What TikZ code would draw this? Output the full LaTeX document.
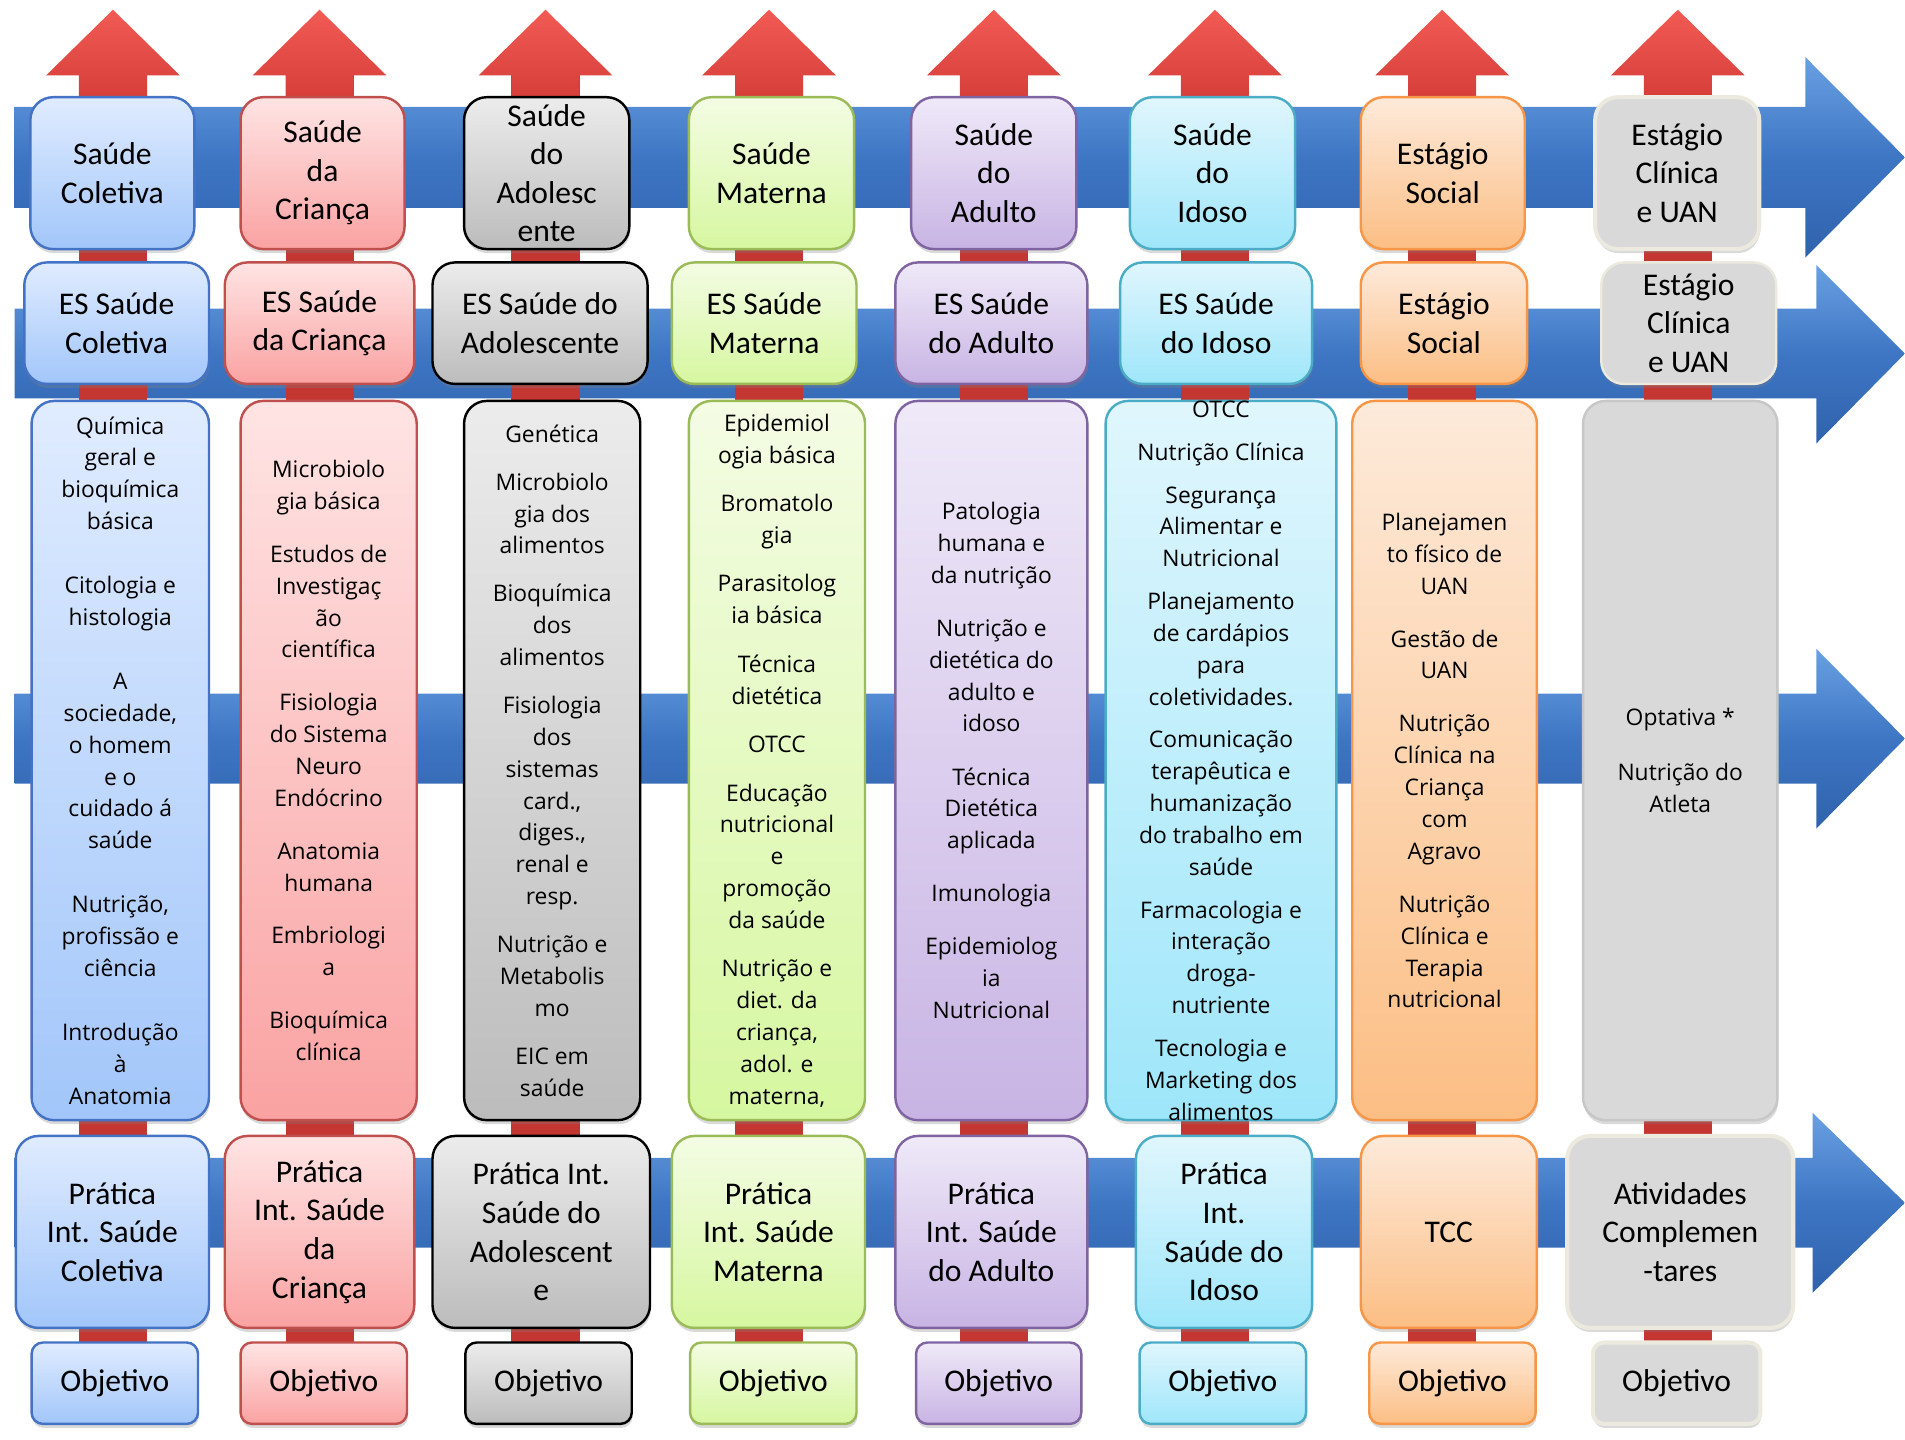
\documentclass[tikz,border=0pt]{standalone}
\usepackage{fontspec}
\usepackage{tikz}
\usetikzlibrary{fit,shadows}
\newfontfamily\ttlfont{Carlito}
\newfontfamily\bodyfont{Open Sans}

\definecolor{bandHi}{RGB}{105,160,226}
\definecolor{bandMid}{RGB}{62,118,196}
\definecolor{bandLo}{RGB}{48,98,172}
\definecolor{redHi}{RGB}{242,90,84}
\definecolor{redHead}{RGB}{214,62,58}
\definecolor{redMid}{RGB}{196,54,50}
\definecolor{bTop}{RGB}{224,236,255}
\definecolor{bBot}{RGB}{162,198,250}
\definecolor{bBd}{RGB}{68,114,196}
\definecolor{rTop}{RGB}{255,228,228}
\definecolor{rBot}{RGB}{250,162,162}
\definecolor{rBd}{RGB}{192,80,77}
\definecolor{gTop}{RGB}{236,236,236}
\definecolor{gBot}{RGB}{188,188,188}
\definecolor{lTop}{RGB}{244,252,228}
\definecolor{lBot}{RGB}{214,247,160}
\definecolor{lBd}{RGB}{155,187,89}
\definecolor{pTop}{RGB}{239,233,248}
\definecolor{pBot}{RGB}{200,180,228}
\definecolor{pBd}{RGB}{128,100,162}
\definecolor{cTop}{RGB}{224,246,253}
\definecolor{cBot}{RGB}{158,230,250}
\definecolor{cBd}{RGB}{75,172,198}
\definecolor{oTop}{RGB}{253,234,218}
\definecolor{oBot}{RGB}{252,190,132}
\definecolor{oBd}{RGB}{247,150,70}
\definecolor{uFill}{RGB}{217,217,217}
\definecolor{uBd}{RGB}{236,234,222}

\tikzset{every picture/.style={line width=0.75pt},
  cbox/.style={rounded corners=14pt, inner sep=0pt, line width=1.5pt,
    drop shadow={shadow xshift=0.5pt, shadow yshift=-2.5pt, opacity=0.3}},
  colbox/.style={cbox, draw=bBd, top color=bTop, bottom color=bBot},
  cribox/.style={cbox, draw=rBd, top color=rTop, bottom color=rBot},
  adobox/.style={cbox, draw=black, top color=gTop, bottom color=gBot},
  matbox/.style={cbox, draw=lBd, top color=lTop, bottom color=lBot},
  adubox/.style={cbox, draw=pBd, top color=pTop, bottom color=pBot},
  idobox/.style={cbox, draw=cBd, top color=cTop, bottom color=cBot},
  socbox/.style={cbox, draw=oBd, top color=oTop, bottom color=oBot},
  uanbox/.style={cbox, draw=uBd, fill=uFill, line width=2.5pt},
  objsmall/.style={rounded corners=7pt},
  band/.style={top color=bandHi, bottom color=bandLo, middle color=bandMid},
  uphead/.style={top color=redHi, bottom color=redHead},
  ttl/.style={align=center, inner sep=0pt, font=\ttlfont\fontsize{19.5}{23.8}\selectfont},
  body/.style={align=center, inner sep=0pt, font=\bodyfont\fontsize{14.1}{19.65}\selectfont}
}

\begin{document}
\begin{tikzpicture}[x=0.75pt,y=0.75pt,yscale=-1,xscale=1]
\useasboundingbox (0,0) rectangle (1568,1185);

%Shape: Right Arrow [id:band1]
\shade [band] (12,88) -- (1486,88) -- (1486,47) -- (1568,129.5) -- (1486,212) -- (1486,171) -- (12,171) -- cycle ;
%Shape: Right Arrow [id:band2]
\shade [band] (12,254) -- (1495,254) -- (1495,218) -- (1568,291) -- (1495,365) -- (1495,328) -- (12,328) -- cycle ;
%Shape: Right Arrow [id:band3]
\shade [band] (12,571) -- (1495,571) -- (1495,534) -- (1568,608) -- (1495,682) -- (1495,645) -- (12,645) -- cycle ;
%Shape: Right Arrow [id:band4]
\shade [band] (12,953) -- (1492,953) -- (1492,916) -- (1568,990) -- (1492,1064) -- (1492,1027) -- (12,1027) -- cycle ;

%Shape: Up Arrow [id:up1]
\fill [redMid] (65,62) rectangle (121,1140) ;
\shade [uphead] (93,8) -- (148,62) -- (121,62) -- (121,80) -- (65,80) -- (65,62) -- (38,62) -- cycle ;
%Shape: Up Arrow [id:up2]
\fill [redMid] (235,62) rectangle (291,1140) ;
\shade [uphead] (263,8) -- (318,62) -- (291,62) -- (291,80) -- (235,80) -- (235,62) -- (208,62) -- cycle ;
%Shape: Up Arrow [id:up3]
\fill [redMid] (421,62) rectangle (477,1140) ;
\shade [uphead] (449,8) -- (504,62) -- (477,62) -- (477,80) -- (421,80) -- (421,62) -- (394,62) -- cycle ;
%Shape: Up Arrow [id:up4]
\fill [redMid] (605,62) rectangle (661,1140) ;
\shade [uphead] (633,8) -- (688,62) -- (661,62) -- (661,80) -- (605,80) -- (605,62) -- (578,62) -- cycle ;
%Shape: Up Arrow [id:up5]
\fill [redMid] (790,62) rectangle (846,1140) ;
\shade [uphead] (818,8) -- (873,62) -- (846,62) -- (846,80) -- (790,80) -- (790,62) -- (763,62) -- cycle ;
%Shape: Up Arrow [id:up6]
\fill [redMid] (972,62) rectangle (1028,1140) ;
\shade [uphead] (1000,8) -- (1055,62) -- (1028,62) -- (1028,80) -- (972,80) -- (972,62) -- (945,62) -- cycle ;
%Shape: Up Arrow [id:up7]
\fill [redMid] (1159,62) rectangle (1215,1140) ;
\shade [uphead] (1187,8) -- (1242,62) -- (1215,62) -- (1215,80) -- (1159,80) -- (1159,62) -- (1132,62) -- cycle ;
%Shape: Up Arrow [id:up8]
\fill [redMid] (1353,62) rectangle (1409,1140) ;
\shade [uphead] (1381,8) -- (1436,62) -- (1409,62) -- (1409,80) -- (1353,80) -- (1353,62) -- (1326,62) -- cycle ;

%Shape: Rounded Rect -- row 1
\node [colbox, fit={(25,80) (160,205)}] (sauCol) {};
\node [cribox, fit={(198,80) (333,205)}] (sauCri) {};
\node [adobox, fit={(382,80) (518,205)}] (sauAdo) {};
\node [matbox, fit={(567,80) (703,205)}] (sauMat) {};
\node [adubox, fit={(750,80) (886,205)}] (sauAdu) {};
\node [idobox, fit={(930,80) (1066,205)}] (sauIdo) {};
\node [socbox, fit={(1120,80) (1255,205)}] (sauSoc) {};
\node [uanbox, fit={(1313,80) (1448,205)}] (sauUan) {};
% Text Node
\node [ttl] (sauColT) at (sauCol) {Saúde\\Coletiva};
\node [ttl] (sauCriT) at (sauCri) {Saúde\\da\\Criança};
\node [ttl] (sauAdoT) at (sauAdo) {Saúde\\do\\Adolesc\\ente};
\node [ttl] (sauMatT) at (sauMat) {Saúde\\Materna};
\node [ttl] (sauAduT) at (sauAdu) {Saúde\\do\\Adulto};
\node [ttl] (sauIdoT) at (sauIdo) {Saúde\\do\\Idoso};
\node [ttl] (sauSocT) at (sauSoc) {Estágio\\Social};
\node [ttl] (sauUanT) at (sauUan) {Estágio\\Clínica\\e UAN};

%Shape: Rounded Rect -- row 2
\node [colbox, fit={(20,216) (172,316)}] (esCol) {};
\node [cribox, fit={(185,216) (341,316)}] (esCri) {};
\node [adobox, fit={(356,216) (533,316)}] (esAdo) {};
\node [matbox, fit={(553,216) (705,316)}] (esMat) {};
\node [adubox, fit={(737,216) (895,316)}] (esAdu) {};
\node [idobox, fit={(922,216) (1080,316)}] (esIdo) {};
\node [socbox, fit={(1120,216) (1257,316)}] (esSoc) {};
\node [uanbox, line width=1.5pt, fit={(1318,216) (1462,316)}] (esUan) {};
% Text Node
\node [ttl] (esColT) at (esCol) {ES Saúde\\Coletiva};
\node [ttl] (esCriT) at (esCri) {ES Saúde\\da Criança};
\node [ttl] (esAdoT) at (esAdo) {ES Saúde do\\Adolescente};
\node [ttl] (esMatT) at (esMat) {ES Saúde\\Materna};
\node [ttl] (esAduT) at (esAdu) {ES Saúde\\do Adulto};
\node [ttl] (esIdoT) at (esIdo) {ES Saúde\\do Idoso};
\node [ttl] (esSocT) at (esSoc) {Estágio\\Social};
\node [ttl] (esUanT) at (esUan) {Estágio\\Clínica\\e UAN};

%Shape: Rounded Rect -- row 3
\node [colbox, fit={(26,330) (172,922)}] (discCol) {};
\node [cribox, fit={(198,330) (343,922)}] (discCri) {};
\node [adobox, fit={(382,330) (527,922)}] (discAdo) {};
\node [matbox, fit={(567,330) (712,922)}] (discMat) {};
\node [adubox, fit={(737,330) (895,922)}] (discAdu) {};
\node [idobox, fit={(910,330) (1100,922)}] (discIdo) {};
\node [socbox, fit={(1113,330) (1265,922)}] (discSoc) {};
\node [uanbox, line width=1.5pt, draw=black!22, fit={(1303,330) (1463,922)}] (discUan) {};
% Text Node
\node [body] (discColT) at (discCol) {Química\\geral e\\bioquímica\\básica\\[19.9pt]Citologia e\\histologia\\[19.9pt]A\\sociedade,\\o homem\\e o\\cuidado á\\saúde\\[19.9pt]Nutrição,\\profissão e\\ciência\\[19.9pt]Introdução\\à\\Anatomia};
\node [body] (discCriT) at (discCri) {Microbiolo\\gia básica\\[13pt]Estudos de\\Investigaç\\ão\\científica\\[13pt]Fisiologia\\do Sistema\\Neuro\\Endócrino\\[13pt]Anatomia\\humana\\[13pt]Embriologi\\a\\[13pt]Bioquímica\\clínica};
\node [body] (discAdoT) at (discAdo) {Genética\\[10pt]Microbiolo\\gia dos\\alimentos\\[10pt]Bioquímica\\dos\\alimentos\\[10pt]Fisiologia\\dos\\sistemas\\card.,\\diges.,\\renal e\\resp.\\[10pt]Nutrição e\\Metabolis\\mo\\[10pt]EIC em\\saúde};
\node [body] (discMatT) at (discMat) {Epidemiol\\ogia básica\\[10.3pt]Bromatolo\\gia\\[10.3pt]Parasitolog\\ia básica\\[10.3pt]Técnica\\dietética\\[10.3pt]OTCC\\[10.3pt]Educação\\nutricional\\e\\promoção\\da saúde\\[10.3pt]Nutrição e\\diet. da\\criança,\\adol. e\\materna,};
\node [body] (discAduT) at (discAdu) {Patologia\\humana e\\da nutrição\\[13.1pt]Nutrição e\\dietética do\\adulto e\\idoso\\[13.1pt]Técnica\\Dietética\\aplicada\\[13.1pt]Imunologia\\[13.1pt]Epidemiolog\\ia\\Nutricional};
\node [body] (discIdoT) at (discIdo) {OTCC\\[6.8pt]Nutrição Clínica\\[6.8pt]Segurança\\Alimentar e\\Nutricional\\[6.8pt]Planejamento\\de cardápios\\para\\coletividades.\\[6.8pt]Comunicação\\terapêutica e\\humanização\\do trabalho em\\saúde\\[6.8pt]Farmacologia e\\interação\\droga-\\nutriente\\[6.8pt]Tecnologia e\\Marketing dos\\alimentos};
\node [body] (discSocT) at (discSoc) {Planejamen\\to físico de\\UAN\\[13.1pt]Gestão de\\UAN\\[13.1pt]Nutrição\\Clínica na\\Criança\\com\\Agravo\\[13.1pt]Nutrição\\Clínica e\\Terapia\\nutricional};
\node [body] (discUanT) at (discUan) {Optativa *\\[14.1pt]Nutrição do\\Atleta};

%Shape: Rounded Rect -- row 4
\node [colbox, fit={(13,935) (172,1093)}] (pratCol) {};
\node [cribox, fit={(185,935) (341,1093)}] (pratCri) {};
\node [adobox, fit={(356,935) (535,1093)}] (pratAdo) {};
\node [matbox, fit={(553,935) (712,1093)}] (pratMat) {};
\node [adubox, fit={(737,935) (895,1093)}] (pratAdu) {};
\node [idobox, fit={(935,935) (1080,1093)}] (pratIdo) {};
\node [socbox, fit={(1120,935) (1265,1093)}] (pratSoc) {};
\node [uanbox, fit={(1290,935) (1476,1093)}] (pratUan) {};
% Text Node
\node [ttl] (pratColT) at (pratCol) {Prática\\Int. Saúde\\Coletiva};
\node [ttl] (pratCriT) at (pratCri) {Prática\\Int. Saúde\\da\\Criança};
\node [ttl] (pratAdoT) at (pratAdo) {Prática Int.\\Saúde do\\Adolescent\\e};
\node [ttl] (pratMatT) at (pratMat) {Prática\\Int. Saúde\\Materna};
\node [ttl] (pratAduT) at (pratAdu) {Prática\\Int. Saúde\\do Adulto};
\node [ttl] (pratIdoT) at (pratIdo) {Prática\\Int.\\Saúde do\\Idoso};
\node [ttl] (pratSocT) at (pratSoc) {TCC};
\node [ttl] (pratUanT) at (pratUan) {Atividades\\Complemen\\-tares};

%Shape: Rounded Rect -- row 5
\node [colbox, objsmall, fit={(26,1105) (163,1172)}] (objCol) {};
\node [cribox, objsmall, fit={(198,1105) (335,1172)}] (objCri) {};
\node [adobox, objsmall, fit={(383,1105) (520,1172)}] (objAdo) {};
\node [matbox, objsmall, fit={(568,1105) (705,1172)}] (objMat) {};
\node [adubox, objsmall, fit={(754,1105) (890,1172)}] (objAdu) {};
\node [idobox, objsmall, fit={(938,1105) (1075,1172)}] (objIdo) {};
\node [socbox, objsmall, fit={(1127,1105) (1264,1172)}] (objSoc) {};
\node [uanbox, objsmall, fit={(1311,1105) (1449,1172)}] (objUan) {};
% Text Node
\node [ttl] (objColT) at (objCol) {Objetivo};
\node [ttl] (objCriT) at (objCri) {Objetivo};
\node [ttl] (objAdoT) at (objAdo) {Objetivo};
\node [ttl] (objMatT) at (objMat) {Objetivo};
\node [ttl] (objAduT) at (objAdu) {Objetivo};
\node [ttl] (objIdoT) at (objIdo) {Objetivo};
\node [ttl] (objSocT) at (objSoc) {Objetivo};
\node [ttl] (objUanT) at (objUan) {Objetivo};
\end{tikzpicture}
\end{document}
